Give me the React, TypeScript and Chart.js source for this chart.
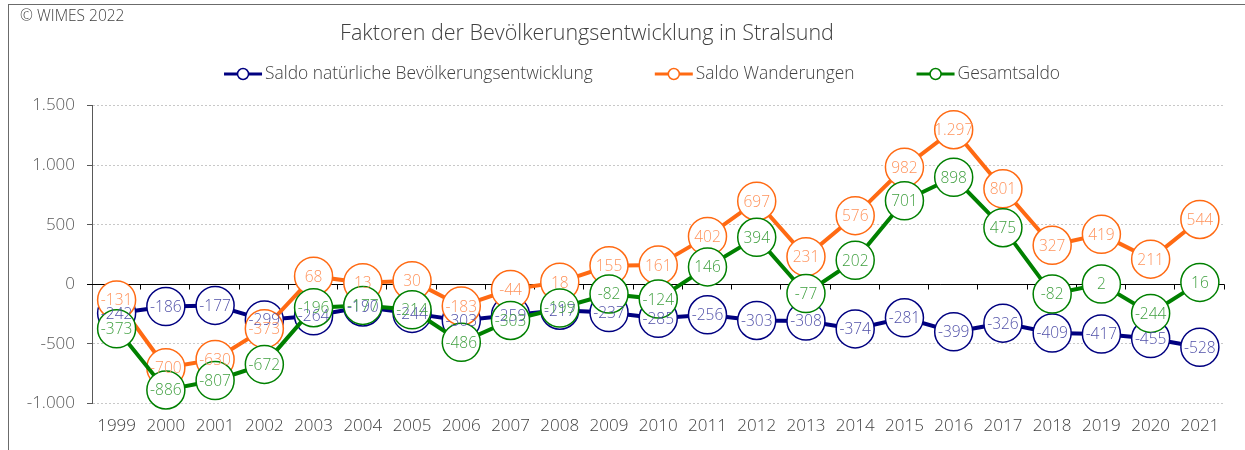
import React, { useEffect, useRef } from 'react';
import { Chart, registerables } from 'chart.js';

Chart.register(...registerables);

const years = ['1999', '2000', '2001', '2002', '2003', '2004', '2005', '2006', '2007', '2008', '2009', '2010', '2011', '2012', '2013', '2014', '2015', '2016', '2017', '2018', '2019', '2020', '2021'];
const saldoNatuerlich = [-242, -186, -177, -299, -264, -190, -244, -303, -259, -217, -237, -285, -256, -303, -308, -374, -281, -399, -326, -409, -417, -455, -528];
const saldoWanderungen = [-131, -700, -630, -373, 68, 13, 30, -183, -44, 18, 155, 161, 402, 697, 231, 576, 982, 1297, 801, 327, 419, 211, 544];
const gesamtsaldo = [-373, -886, -807, -672, -196, -177, -214, -486, -303, -199, -82, -124, 146, 394, -77, 202, 701, 898, 475, -82, 2, -244, 16];
const seriesNames = ['Saldo natürliche Bevölkerungsentwicklung', 'Saldo Wanderungen', 'Gesamtsaldo'];
const yMin = -1000;
const yMax = 1500;
const yStep = 500;
const titleText = 'Faktoren der Bevölkerungsentwicklung in Stralsund';
const copyrightText = '© WIMES 2022';

const FONT = '"Open Sans", "Noto Sans", sans-serif';
const lineColors = ['#000080', '#FF6A13', '#008000'];
const labelColors = ['#5050A8', '#FF935C', '#3F9F3F'];

function fmt(v: number): string {
  const s = Math.abs(v).toString().replace(/\B(?=(\d{3})+(?!\d))/g, '.');
  return (v < 0 ? '-' : '') + s;
}

const decorPlugin = {
  id: 'decor',
  beforeDatasetsDraw(chart: any) {
    const { ctx, chartArea } = chart;
    const y0 = Math.round(chart.scales.y.getPixelForValue(0)) + 0.5;
    const n = years.length;
    ctx.save();
    ctx.strokeStyle = '#000000';
    ctx.lineWidth = 1;
    ctx.beginPath();
    ctx.moveTo(chartArea.left - 5, y0);
    ctx.lineTo(chartArea.right, y0);
    for (let i = 1; i <= n; i++) {
      const x = Math.round(chartArea.left + (i * chartArea.width) / n) - 0.5;
      ctx.moveTo(x, y0);
      ctx.lineTo(x, y0 + 5);
    }
    ctx.stroke();
    ctx.restore();
  },
  afterDatasetsDraw(chart: any) {
    const { ctx } = chart;
    ctx.save();
    ctx.font = `300 15.5px ${FONT}`;
    ctx.textAlign = 'center';
    ctx.textBaseline = 'middle';
    chart.data.datasets.forEach((ds: any, i: number) => {
      const meta = chart.getDatasetMeta(i);
      ctx.fillStyle = labelColors[i];
      meta.data.forEach((pt: any, j: number) => {
        ctx.fillText(fmt(ds.data[j]), pt.x, pt.y + 1);
      });
    });
    ctx.restore();
  },
  afterDraw(chart: any) {
    const { ctx } = chart;
    ctx.save();
    // copyright
    ctx.fillStyle = '#404040';
    ctx.font = `300 15.5px ${FONT}`;
    ctx.textAlign = 'left';
    ctx.textBaseline = 'middle';
    ctx.fillText(copyrightText, 20, 17);
    // title
    ctx.font = `300 21.5px ${FONT}`;
    ctx.textAlign = 'center';
    ctx.fillText(titleText, 587, 34);
    // legend
    ctx.font = `300 17.4px ${FONT}`;
    const markerW = 38;
    const gapText = 3;
    const gapItem = 62;
    const widths = seriesNames.map((s) => markerW + gapText + ctx.measureText(s).width);
    const total = widths.reduce((a, b) => a + b, 0) + gapItem * (seriesNames.length - 1);
    let x = 642 - total / 2;
    const ly = 74;
    seriesNames.forEach((name, i) => {
      ctx.strokeStyle = lineColors[i];
      ctx.lineWidth = 3;
      ctx.beginPath();
      ctx.moveTo(x, ly);
      ctx.lineTo(x + markerW, ly);
      ctx.stroke();
      ctx.beginPath();
      ctx.arc(x + markerW / 2, ly, 5.5, 0, Math.PI * 2);
      ctx.fillStyle = '#ffffff';
      ctx.fill();
      ctx.lineWidth = 1.5;
      ctx.stroke();
      ctx.fillStyle = '#404040';
      ctx.textAlign = 'left';
      ctx.fillText(name, x + markerW + gapText, ly);
      x += widths[i] + gapItem;
    });
    ctx.restore();
  },
};

export default function App() {
  const ref = useRef<HTMLCanvasElement | null>(null);
  useEffect(() => {
    if (!ref.current) return;
    const seriesData = [saldoNatuerlich, saldoWanderungen, gesamtsaldo];
    const chart = new Chart(ref.current, {
      type: 'line',
      data: {
        labels: years,
        datasets: seriesData.map((d, i) => ({
          label: seriesNames[i],
          data: d,
          borderColor: lineColors[i],
          backgroundColor: '#ffffff',
          borderWidth: 4,
          pointRadius: 19,
          pointBorderWidth: 1.5,
          pointBackgroundColor: '#ffffff',
          pointBorderColor: lineColors[i],
          tension: 0,
          clip: false as any,
          order: 3 - i,
        })),
      },
      options: {
        responsive: false,
        animation: false,
        events: [],
        layout: { padding: { top: 105.5, right: 20, left: 0, bottom: 0 } },
        plugins: {
          legend: { display: false },
          title: { display: false },
          tooltip: { enabled: false },
        },
        scales: {
          x: {
            type: 'category',
            offset: true,
            grid: { display: false, drawTicks: false },
            border: { display: false },
            ticks: {
              color: '#404040',
              font: { family: FONT, size: 17, weight: '300' as any },
              padding: 12,
              maxRotation: 0,
              autoSkip: false,
            },
            afterFit: (s: any) => {
              s.height = 46.5;
            },
          },
          y: {
            min: yMin,
            max: yMax,
            ticks: {
              stepSize: yStep,
              color: '#595959',
              font: { family: FONT, size: 17, weight: '300' as any },
              padding: 12,
              callback: (v: any) => fmt(Number(v)),
            },
            grid: {
              color: '#c8c8c8',
              tickColor: '#595959',
              tickLength: 5,
              tickBorderDash: [],
            },
            border: { display: true, color: '#595959', width: 1, dash: [2, 2] },
            afterFit: (s: any) => {
              s.width = 92;
            },
          },
        },
      },
      plugins: [decorPlugin],
    });
    return () => chart.destroy();
  }, []);

  return (
    <div style={{ position: 'fixed', left: 0, top: 0, width: 1245, height: 450, background: '#ffffff' }}>
      <div
        style={{
          position: 'absolute',
          left: 8,
          top: 4,
          width: 1237,
          height: 446,
          borderTop: '1px solid #6b6b6b',
          borderLeft: '1px solid #6b6b6b',
          boxSizing: 'border-box',
        }}
      />
      <canvas ref={ref} width={1245} height={450} style={{ position: 'absolute', left: 0, top: 0, width: 1245, height: 450 }} />
    </div>
  );
}
